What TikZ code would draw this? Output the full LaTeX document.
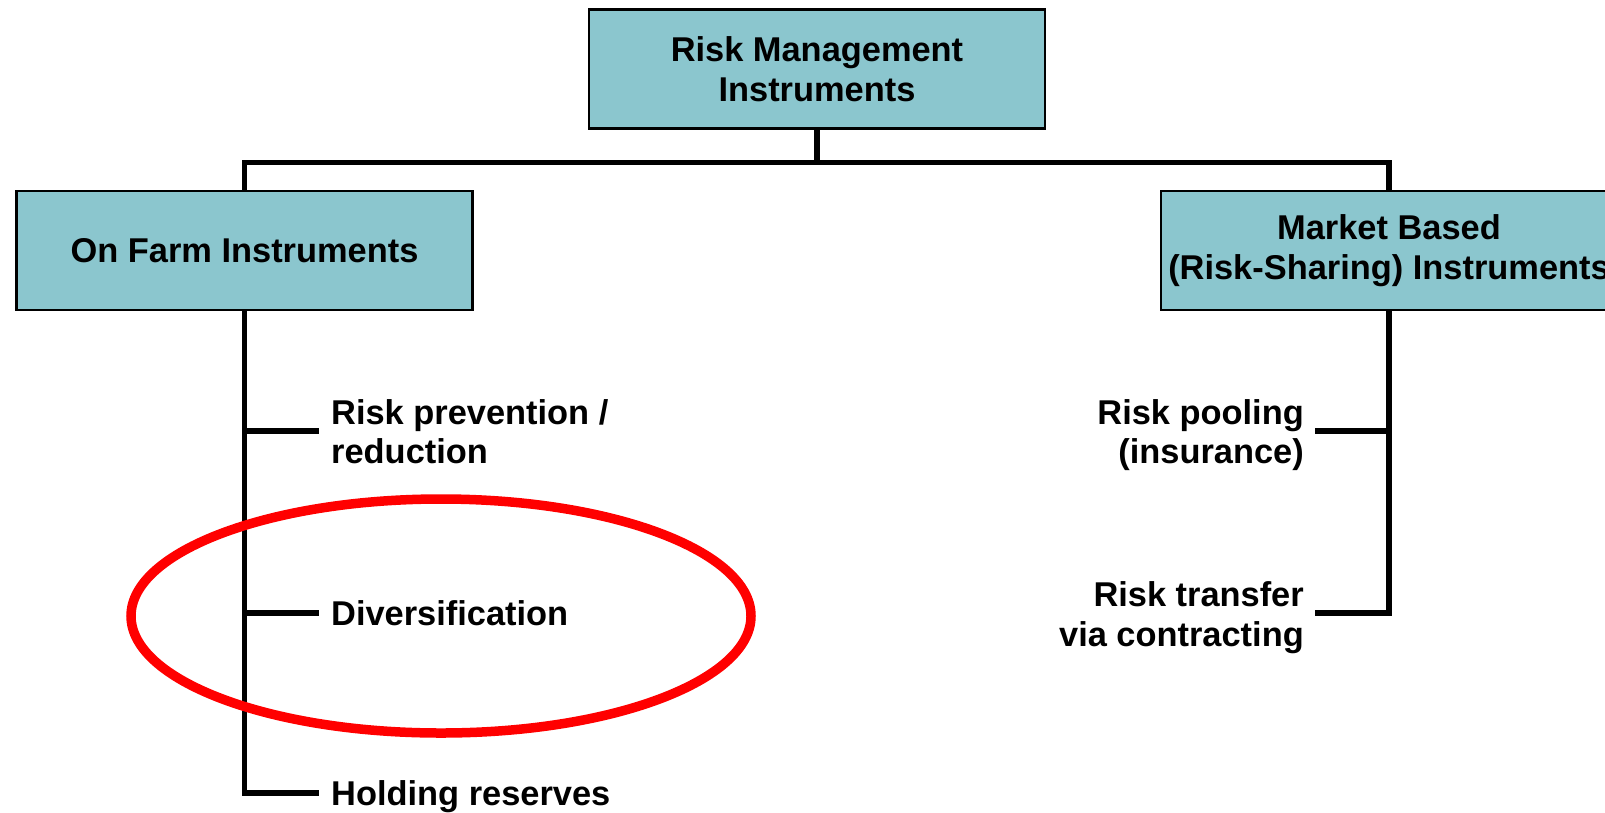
\documentclass[tikz,border=0pt]{standalone}
\usepackage{fontspec}
\setmainfont{Liberation Sans}
\definecolor{boxteal}{RGB}{139,198,206}
\begin{document}
\begin{tikzpicture}[x=1pt,y=-1pt,
  txt/.style={font=\bfseries\fontsize{34.4}{39.5}\selectfont, inner sep=0pt},
  box/.style={txt, draw=black, line width=2.5pt, fill=boxteal, minimum width=456pt, minimum height=119pt, align=center},
  lab/.style={txt},
  conn/.style={line width=5.5pt, draw=black},
  ring/.style={draw=red, line width=9.5pt}]
\useasboundingbox (0,0) rectangle (1605,812);
\clip (0,0) rectangle (1605,812);
\fill[white] (0,0) rectangle (1605,812);
% boxes
\node[box] (top) at (817,69) {Risk Management\\Instruments};
\node[box] (onfarm) at (244.5,250.5) {On Farm Instruments};
\node[box] (market) at (1389,250.5) {Market Based\\(Risk-Sharing) Instruments};
% labels (base anchor = baseline of the last line)
\node[lab, anchor=base west, align=left] (prev) at (331,463.5) {Risk prevention /\\reduction};
\node[lab, anchor=base west] (div) at (331,625.5) {Diversification};
\node[lab, anchor=base west] (hold) at (331,805) {Holding reserves};
\node[lab, anchor=base east, align=right] (pool) at (1304,463.5) {Risk pooling\\(insurance)};
\node[lab, anchor=base east, align=right] (transfer) at (1304,646) {Risk transfer\\via contracting};
% branch points
\coordinate (hub) at (817,162.7);
\coordinate (bPrev) at (319.4,431);
\coordinate (bDiv) at (319.4,613);
\coordinate (bHold) at (319.4,793);
\coordinate (bPool) at (1315.3,431);
\coordinate (bTrans) at (1315.3,613);
% connectors
\draw[conn] (top.south) -- (hub);
\draw[conn] (onfarm.north) -- (onfarm.north |- hub) -- (market.north |- hub) -- (market.north);
\draw[conn] (onfarm.south) |- (bHold);
\draw[conn] (onfarm.south |- bPrev) -- (bPrev);
\draw[conn] (onfarm.south |- bDiv) -- (bDiv);
\draw[conn] (market.south) |- (bTrans);
\draw[conn] (market.south |- bPool) -- (bPool);
% highlight
\draw[ring] (441,616) ellipse [x radius=310, y radius=117];
\end{tikzpicture}
\end{document}
